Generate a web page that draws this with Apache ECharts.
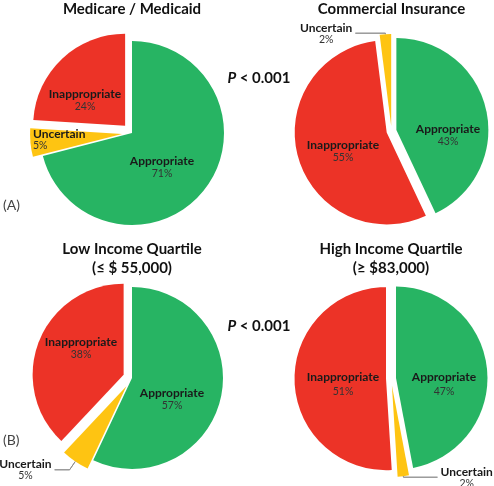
<!DOCTYPE html>
<html>
<head>
<meta charset="utf-8">
<script src="https://cdn.jsdelivr.net/npm/echarts@6/dist/echarts.min.js"></script>
<style>
html,body{margin:0;padding:0;background:#fff;}
#chart{width:494px;height:486px;}
</style>
</head>
<body>
<div id="chart"></div>
<script>
// ---- data ----
const panelTitles = ['Medicare / Medicaid', 'Commercial Insurance', 'Low Income Quartile\n(≤ $ 55,000)', 'High Income Quartile\n(≥ $83,000)'];
const medicareOrder = ['Appropriate', 'Uncertain', 'Inappropriate'];
const medicareValues = [71, 5, 24];
const commercialOrder = ['Appropriate', 'Inappropriate', 'Uncertain'];
const commercialValues = [43, 55, 2];
const lowIncomeOrder = ['Appropriate', 'Uncertain', 'Inappropriate'];
const lowIncomeValues = [57, 5, 38];
const highIncomeOrder = ['Appropriate', 'Uncertain', 'Inappropriate'];
const highIncomeValues = [47, 2, 51];
const pValueText = 'P < 0.001';
const panelLetters = ['(A)', '(B)'];

// ---- style / layout ----
const FONT = 'Lato, "Open Sans", sans-serif';
const colors = { Appropriate: '#27B463', Inappropriate: '#EC3327', Uncertain: '#FEC412' };
// inside-label anchor points (text block centre unless leftAlign); outside labels use leader lines [length, length2]
const panels = [
  { order: medicareOrder, values: medicareValues, center: [132, 133], r: 92,
    offset: { Appropriate: 0, Uncertain: 10, Inappropriate: 10 },
    labelAt: { Appropriate: [162, 167], Inappropriate: [85, 100], Uncertain: [33, 140] },
    outside: {}, leftAlign: { Uncertain: true } },
  { order: commercialOrder, values: commercialValues, center: [391.5, 131], r: 92,
    offset: { Appropriate: 5, Uncertain: 5, Inappropriate: 5 },
    labelAt: { Appropriate: [448, 135], Inappropriate: [343, 151] },
    outside: { Uncertain: [1, 30] }, leftAlign: {} },
  { order: lowIncomeOrder, values: lowIncomeValues, center: [132, 378], r: 91,
    offset: { Appropriate: 0, Uncertain: 10, Inappropriate: 9 },
    labelAt: { Appropriate: [172, 399], Inappropriate: [81, 348] },
    outside: { Uncertain: [10, 15] }, leftAlign: {} },
  { order: highIncomeOrder, values: highIncomeValues, center: [391, 378.5], r: 91.5,
    offset: { Appropriate: 5, Uncertain: 7, Inappropriate: 5 },
    labelAt: { Appropriate: [444, 384], Inappropriate: [343, 384] },
    outside: { Uncertain: [1, 34] }, leftAlign: {} }
];
const LEADER_COLOR = '#8c8c8c';

const innerSeries = [];
const outerSeries = [];
const leaderLines = [];
panels.forEach(function (p, pi) {
  const total = p.values.reduce(function (a, b) { return a + b; }, 0);
  let cum = 0;
  p.order.forEach(function (name, k) {
    const v = p.values[k];
    const mid = (cum + v / 2) / total * 2 * Math.PI; // clockwise from top
    cum += v;
    const dirX = Math.sin(mid), dirY = -Math.cos(mid);
    const off = p.offset[name] || 0;
    const cx = p.center[0] + off * dirX;
    const cy = p.center[1] + off * dirY;
    const outLen = p.outside[name];
    const isOut = !!outLen;
    const left = !!p.leftAlign[name];
    const at = p.labelAt[name];
    const big = pi === 3 && !isOut;
    const tight = isOut || left;
    if (isOut) {
      // leader line following the slice's mid-angle (same geometry the pie label uses)
      const p1 = [cx + p.r * dirX, cy + p.r * dirY];
      const p2 = [p1[0] + outLen[0] * dirX, p1[1] + outLen[0] * dirY];
      const p3 = [p2[0] + (dirX < 0 ? -1 : 1) * outLen[1], p2[1]];
      leaderLines.push({ type: 'polyline', z: 20, silent: true,
        shape: { points: [p1, p2, p3] },
        style: { stroke: LEADER_COLOR, lineWidth: 0.9, fill: null } });
    }
    const s = {
      type: 'pie',
      z: isOut ? 4 : 2,
      center: [cx, cy],
      radius: p.r,
      startAngle: 90,
      clockwise: true,
      silent: true,
      animation: false,
      avoidLabelOverlap: false,
      emphasis: { disabled: true },
      itemStyle: { borderWidth: 0 },
      label: { position: isOut ? 'outside' : 'inside', alignTo: 'none', distanceToLabelLine: 3 },
      labelLine: isOut ? { show: true, length: outLen[0], length2: outLen[1], smooth: false,
        lineStyle: { color: LEADER_COLOR, width: 0.9 } } : { show: false },
      data: p.order.map(function (n, i) {
        const on = i === k;
        return {
          name: n,
          value: p.values[i],
          itemStyle: { color: on ? colors[n] : 'rgba(0,0,0,0)', borderWidth: 0 },
          label: {
            show: on,
            formatter: '{b|{b}}\n{p|{c}%}',
            rich: {
              b: { fontFamily: FONT, fontWeight: 'bold', fontSize: 12, color: '#1a1a1a', lineHeight: big ? 16 : (tight ? 12 : 13), align: left ? 'left' : 'center' },
              p: { fontFamily: FONT, fontSize: 10.5, color: '#333', lineHeight: big ? 14 : (tight ? 11 : 12), align: left ? 'left' : 'center' }
            }
          },
          labelLine: { show: on && isOut }
        };
      })
    };
    if (at) {
      s.labelLayout = function (params) {
        if (params.dataIndex !== k) return {};
        return { x: at[0], y: at[1], align: left ? 'left' : 'center', verticalAlign: 'middle' };
      };
    }
    (isOut ? outerSeries : innerSeries).push(s);
  });
});
const series = innerSeries.concat(outerSeries);

const titles = panelTitles.map(function (t, i) {
  const p = panels[i];
  const top = i < 2 ? 0 : 239.5;
  return {
    text: t, left: p.center[0], top: top, textAlign: 'center', padding: 0,
    textStyle: { fontFamily: FONT, fontWeight: 'bold', fontSize: 15, color: '#111', lineHeight: 19 }
  };
});

function pText(y) {
  const parts = pValueText.split(' ');
  return { type: 'text', x: 259, y: y, silent: true,
    style: { text: '{i|' + parts[0] + '} {b|' + parts.slice(1).join(' ') + '}', align: 'center', verticalAlign: 'middle',
      rich: { i: { fontFamily: FONT, fontWeight: 'bold', fontStyle: 'italic', fontSize: 15, fill: '#111' },
              b: { fontFamily: FONT, fontWeight: 'bold', fontSize: 15, fill: '#111' } } } };
}

const chart = echarts.init(document.getElementById('chart'), null, { renderer: 'canvas' });
chart.setOption({
  backgroundColor: '#ffffff',
  title: titles,
  series: series,
  graphic: [
    pText(78),
    pText(326),
    { type: 'text', x: 3, y: 205, silent: true, style: { text: panelLetters[0], fontFamily: FONT, fontSize: 14, fill: '#444', verticalAlign: 'middle' } },
    { type: 'text', x: 3, y: 440, silent: true, style: { text: panelLetters[1], fontFamily: FONT, fontSize: 14, fill: '#444', verticalAlign: 'middle' } }
  ].concat(leaderLines)
});
</script>
</body>
</html>
